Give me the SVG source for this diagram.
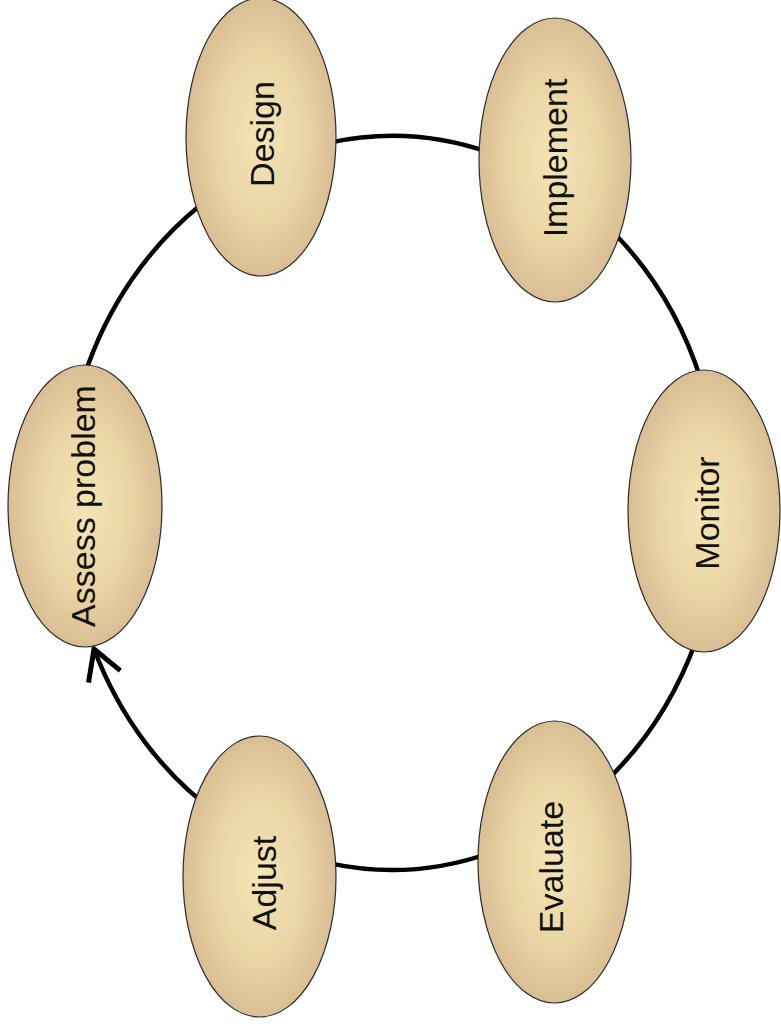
<svg xmlns="http://www.w3.org/2000/svg" width="781" height="1030" viewBox="0 0 781 1030">
  <defs>
    <radialGradient id="fill" cx="50%" cy="50%" r="50%">
      <stop offset="0" stop-color="#F4E5B6"/>
      <stop offset="0.6" stop-color="#EAD4A4"/>
      <stop offset="1" stop-color="#D9BE94"/>
    </radialGradient>
    <marker id="arrow" markerUnits="userSpaceOnUse" markerWidth="80" markerHeight="80" refX="0" refY="0" orient="auto" overflow="visible">
      <path d="M-29.5,-17 L0,0 L-29.5,17" fill="none" stroke="#000" stroke-width="5" stroke-linejoin="miter" stroke-linecap="butt"/>
    </marker>
    <style>
      .ring { fill: none; stroke: #000; stroke-width: 4.5; }
      .node ellipse { fill: url(#fill); stroke: #2a2a2a; stroke-width: 1.2; }
      .node text { font-family: "Liberation Sans", Arial, sans-serif; font-size: 34px; fill: #111; text-anchor: middle; }
    </style>
  </defs>

  <g id="connectors">
    <path class="ring" d="M84.6,375 A328,367 0 0 1 200.6,205"/>
    <path class="ring" d="M330,142.6 A328,367 0 0 1 490,152.8"/>
    <path class="ring" d="M616,235 A328,367 0 0 1 701,380"/>
    <path class="ring" d="M696.3,640 A328,367 0 0 1 602,785"/>
    <path class="ring" d="M490,853 A328,367 0 0 1 330,863.4"/>
    <path class="ring" d="M219,815 A328,367 0 0 1 94,649" marker-end="url(#arrow)"/>
  </g>

  <g id="node-design" class="node">
    <ellipse cx="261" cy="137" rx="75" ry="139"/>
    <text transform="translate(274,134) rotate(-90)">Design</text>
  </g>
  <g id="node-implement" class="node">
    <ellipse cx="555" cy="160" rx="76" ry="142"/>
    <text transform="translate(567,158) rotate(-90)">Implement</text>
  </g>
  <g id="node-assess" class="node">
    <ellipse cx="85" cy="506" rx="77" ry="141"/>
    <text transform="translate(95,506) rotate(-90)">Assess problem</text>
  </g>
  <g id="node-monitor" class="node">
    <ellipse cx="704" cy="511" rx="76" ry="141"/>
    <text transform="translate(719,513) rotate(-90)">Monitor</text>
  </g>
  <g id="node-evaluate" class="node">
    <ellipse cx="554.5" cy="862" rx="76.5" ry="141"/>
    <text transform="translate(563,867) rotate(-90)">Evaluate</text>
  </g>
  <g id="node-adjust" class="node">
    <ellipse cx="259.5" cy="876.5" rx="76.5" ry="140.5"/>
    <text transform="translate(276,883) rotate(-90)">Adjust</text>
  </g>
</svg>
